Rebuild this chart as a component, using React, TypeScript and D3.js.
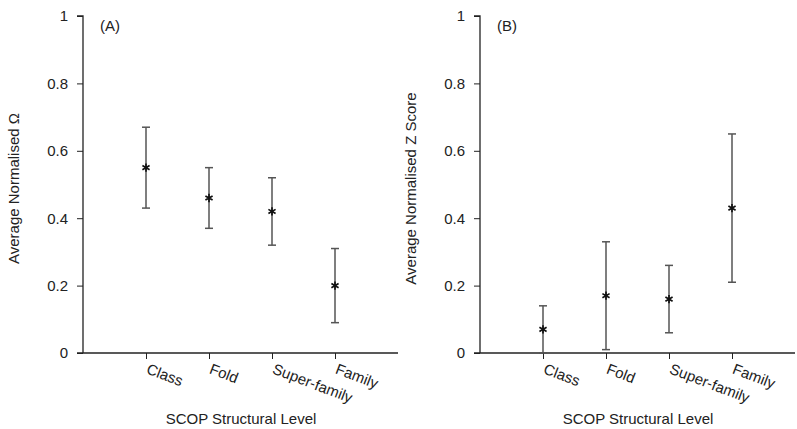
import { useEffect, useRef } from "react"
import * as d3 from "d3"

const levels = ["Class", "Fold", "Super-family", "Family"]

// panel A: average normalised omega
const omegaMean = [0.55, 0.46, 0.42, 0.2]
const omegaLow = [0.43, 0.37, 0.32, 0.09]
const omegaHigh = [0.67, 0.55, 0.52, 0.31]

// panel B: average normalised Z score
const zMean = [0.07, 0.17, 0.16, 0.43]
const zLow = [0.0, 0.01, 0.06, 0.21]
const zHigh = [0.14, 0.33, 0.26, 0.65]

const yTicks = [0, 0.2, 0.4, 0.6, 0.8, 1]

const WIDTH = 797
const HEIGHT = 429
const FONT = "'Liberation Sans', Arial, Helvetica, sans-serif"
const FS = 15

const panels = [
  { tag: "(A)", title: "Average Normalised Ω", left: 83, mean: omegaMean, low: omegaLow, high: omegaHigh, titleX: 14 },
  { tag: "(B)", title: "Average Normalised Z Score", left: 480, mean: zMean, low: zLow, high: zHigh, titleX: 411 },
]

const App = () => {
  const svgRef = useRef<SVGSVGElement>(null)

  useEffect(() => {
    const svg = d3.select(svgRef.current)
    svg.selectAll("*").remove()

    const top = 16
    const bottom = 353
    const y = d3.scaleLinear().domain([0, 1]).range([bottom, top])

    panels.forEach((p) => {
      const x = d3.scaleLinear().domain([0, 5]).range([p.left, p.left + 315])
      const g = svg.append("g")

      // y axis
      const ya = g.append("g").attr("transform", `translate(${p.left},0)`).call(
        d3.axisLeft(y).tickValues(yTicks).tickSize(6).tickPadding(9).tickFormat((d) => d3.format("~g")(d as number))
      )
      ya.select(".domain").attr("d", `M-6,${top}H0V${bottom}`)
      ya.selectAll("line").attr("stroke", "#222")
      ya.selectAll("path").attr("stroke", "#222").attr("stroke-width", 1.3)
      ya.selectAll("text").attr("font-family", FONT).attr("font-size", FS).attr("fill", "#222")

      // x axis
      const xa = g.append("g").attr("transform", `translate(0,${bottom})`).call(
        d3.axisBottom(x).tickValues([1, 2, 3, 4]).tickSize(6).tickFormat((d) => levels[(d as number) - 1])
      )
      xa.select(".domain").attr("d", `M${p.left - 6},0H${p.left + 315}`)
      xa.selectAll("path").attr("stroke", "#222").attr("stroke-width", 1.3)
      xa.selectAll("line").attr("stroke", "#222")
      xa.selectAll("text")
        .attr("font-family", FONT)
        .attr("font-size", FS)
        .attr("fill", "#222")
        .attr("text-anchor", "start")
        .attr("y", 0)
        .attr("dy", 0)
        .attr("transform", "translate(-1,20) rotate(21)")

      // error bars
      levels.forEach((_, i) => {
        const cx = x(i + 1)
        const bar = g.append("g").attr("stroke", "#555").attr("stroke-width", 1.5)
        bar.append("line").attr("x1", cx).attr("x2", cx).attr("y1", y(p.low[i])).attr("y2", y(p.high[i]))
        bar.append("line").attr("x1", cx - 4).attr("x2", cx + 4).attr("y1", y(p.low[i])).attr("y2", y(p.low[i]))
        bar.append("line").attr("x1", cx - 4).attr("x2", cx + 4).attr("y1", y(p.high[i])).attr("y2", y(p.high[i]))
        g.append("path")
          .attr("d", d3.symbol(d3.symbolAsterisk, 48)())
          .attr("transform", `translate(${cx},${y(p.mean[i])})`)
          .attr("fill", "none")
          .attr("stroke", "#111")
          .attr("stroke-width", 1.7)
      })

      // panel tag
      g.append("text")
        .attr("x", p.left + 17)
        .attr("y", 31)
        .attr("font-family", FONT)
        .attr("font-size", FS)
        .attr("fill", "#222")
        .text(p.tag)

      // axis titles
      g.append("text")
        .attr("x", p.left + 158)
        .attr("y", 424)
        .attr("text-anchor", "middle")
        .attr("font-family", FONT)
        .attr("font-size", FS)
        .attr("fill", "#222")
        .text("SCOP Structural Level")

      g.append("text")
        .attr("transform", `translate(${p.titleX + 5},${(top + bottom) / 2 + 4}) rotate(-90)`)
        .attr("text-anchor", "middle")
        .attr("font-family", FONT)
        .attr("font-size", FS)
        .attr("fill", "#222")
        .text(p.title)
    })
  }, [])

  return (
    <svg
      ref={svgRef}
      width={WIDTH}
      height={HEIGHT}
      style={{ position: "absolute", left: 0, top: 0, background: "#fff" }}
    ></svg>
  )
}

export default App
